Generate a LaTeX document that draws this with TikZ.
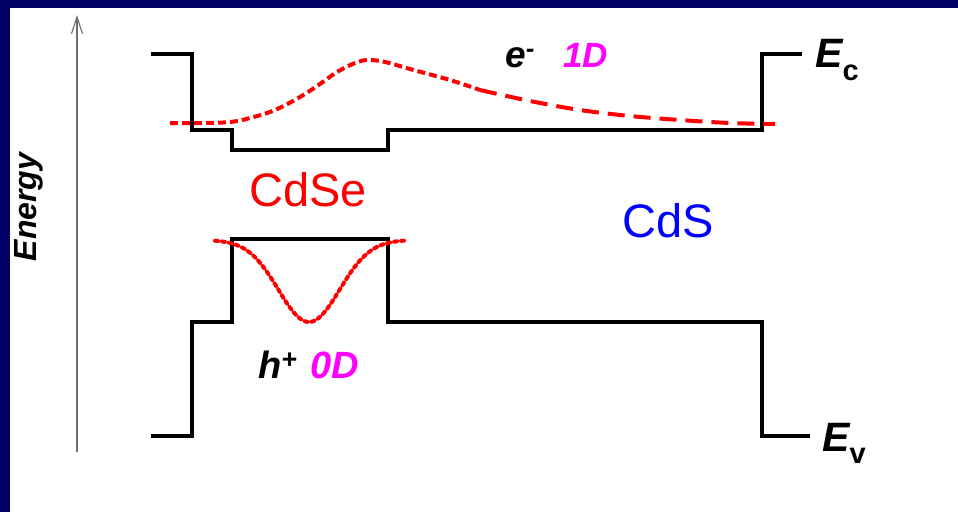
\documentclass[tikz,border=0pt]{standalone}
\usepackage{fontspec}
\setmainfont{Liberation Sans}
\usetikzlibrary{arrows.meta}
\definecolor{navy}{RGB}{0,0,102}
\definecolor{mag}{RGB}{255,0,255}
\definecolor{axisgray}{RGB}{110,110,110}
\begin{document}
\begin{tikzpicture}[x=1pt,y=-1pt,
  band/.style={line width=3.3pt,black},
  wave/.style={line width=4pt,red},
  lbl/.style={inner sep=0pt,anchor=base west},
  bi/.style={font=\bfseries\itshape}]
\fill[navy] (0,0) rectangle (958,512);
\fill[white] (10,8) rectangle (958,512);
\useasboundingbox (0,0) rectangle (958,512);
% energy axis
\coordinate (a0) at (77,452);
\coordinate (a1) at (77,15);
\draw[axisgray,line width=1.3pt,-{Straight Barb[length=17pt,width=11pt,line width=1.1pt]}] (a0) -- (a1);
\node[inner sep=0pt,anchor=base,rotate=90,font=\bfseries\itshape\fontsize{32}{32}\selectfont] (energy) at (36,207) {Energy};
% conduction band
\draw[band] (151,54) -- (192,54) -- (192,130) -- (232,130) -- (232,150) -- (388,150) -- (388,130) -- (762,130) -- (762,54) -- (802,54);
% valence band
\draw[band] (151,436) -- (192,436) -- (192,322) -- (232,322) -- (232,239) -- (388,239) -- (388,322) -- (762,322) -- (762,436) -- (810,436);
% electron wavefunction
\draw[wave,dash pattern=on 8pt off 4pt] plot[smooth,tension=0.6] coordinates {(170,123) (200,123) (230,122) (250,118) (275,110) (300,97) (320,84) (337,72) (355,63) (368,60) (385,62) (410,69) (450,80) (480,90)};
\draw[wave,dash pattern=on 17pt off 9pt] plot[smooth,tension=0.6] coordinates {(480,90) (530,101) (580,110) (630,116) (680,120) (730,123) (775,124)};
% hole wavefunction
\draw[wave,line cap=round,dash pattern=on 3pt off 4pt,domain=215:405,samples=80] plot (\x,{240+82*exp(-((\x-309)^2)/(2*30.6^2))});
% labels
\node[lbl,red,font=\fontsize{47}{47}\selectfont] (cdse) at (249,206) {CdSe};
\node[lbl,blue,font=\fontsize{47}{47}\selectfont] (cds) at (622,237) {CdS};
\node[lbl,font=\bfseries\itshape\fontsize{37}{37}\selectfont] (el) at (505,67) {e\textsuperscript{-}};
\node[lbl,mag,font=\bfseries\itshape\fontsize{35}{35}\selectfont] (oned) at (563,67) {1D};
\node[lbl,font=\bfseries\itshape\fontsize{38}{38}\selectfont] (ho) at (258,378) {h\textsuperscript{+}};
\node[lbl,mag,font=\bfseries\itshape\fontsize{38}{38}\selectfont] (zerod) at (310,378) {0D};
\node[lbl,font=\bfseries\itshape\fontsize{41}{41}\selectfont] (ec) at (815,67) {E\raisebox{-13pt}{\upshape\fontsize{29}{29}\selectfont c}};
\node[lbl,font=\bfseries\itshape\fontsize{41}{41}\selectfont] (ev) at (822,451) {E\raisebox{-12pt}{\upshape\fontsize{29}{29}\selectfont v}};
\end{tikzpicture}
\end{document}
